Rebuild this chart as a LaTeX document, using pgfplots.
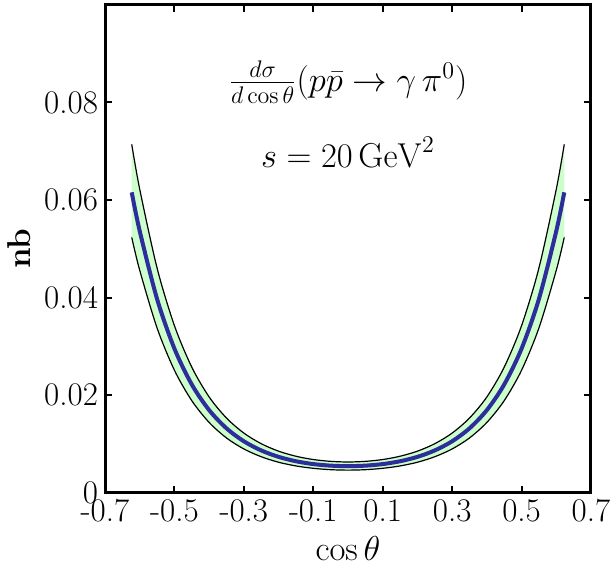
\documentclass[border=0pt]{standalone}
\usepackage{pgfplots}
\usepackage{pgfplotstable}
\pgfplotsset{compat=1.18}
\usepgfplotslibrary{fillbetween}
\usetikzlibrary{calc}
\definecolor{bandgreen}{RGB}{204,255,204}
\definecolor{curveblue}{RGB}{45,45,155}
\pgfplotstableread{
x c up lo
-0.623 0.06157 0.07142 0.05233
-0.60 0.05364 0.06222 0.04559
-0.55 0.03970 0.04605 0.03375
-0.50 0.02951 0.03423 0.02508
-0.45 0.02216 0.02571 0.01884
-0.40 0.01690 0.01960 0.01437
-0.35 0.01316 0.01527 0.01119
-0.30 0.01051 0.01219 0.00893
-0.25 0.00863 0.01001 0.00734
-0.20 0.00731 0.00848 0.00621
-0.15 0.00641 0.00744 0.00545
-0.10 0.00583 0.00676 0.00496
-0.05 0.00551 0.00639 0.00468
0.00 0.00540 0.00626 0.00459
0.05 0.00551 0.00639 0.00468
0.10 0.00583 0.00676 0.00496
0.15 0.00641 0.00744 0.00545
0.20 0.00731 0.00848 0.00621
0.25 0.00863 0.01001 0.00734
0.30 0.01051 0.01219 0.00893
0.35 0.01316 0.01527 0.01119
0.40 0.01690 0.01960 0.01437
0.45 0.02216 0.02571 0.01884
0.50 0.02951 0.03423 0.02508
0.55 0.03970 0.04605 0.03375
0.60 0.05364 0.06222 0.04559
0.623 0.06157 0.07142 0.05233
}\crosssection
\begin{document}
\begin{tikzpicture}
\begin{axis}[
  scale only axis,
  width=243pt, height=243.75pt,
  xmin=-0.7, xmax=0.7, ymin=0, ymax=0.1,
  xtick={-0.7,-0.5,-0.3,-0.1,0.1,0.3,0.5,0.7},
  xticklabels={-0.7,-0.5,-0.3,-0.1,0.1,0.3,0.5,0.7},
  ytick={0,0.02,0.04,0.06,0.08},
  yticklabels={0,0.02,0.04,0.06,0.08},
  scaled y ticks=false,
  xtick pos=both, ytick pos=both,
  tick align=inside,
  major tick length=3.5pt,
  tick style={line width=1pt, black},
  axis line style={line width=1.5pt},
  every tick label/.append style={font=\fontsize{16.5}{20}\selectfont},
  label style={font=\fontsize{16.5}{20}\selectfont},
  xlabel={$\cos\theta$},
  ylabel={\textbf{nb}},
]
\addplot[draw=none, name path=up, smooth] table[x=x, y=up] {\crosssection};
\addplot[draw=none, name path=lo, smooth] table[x=x, y=lo] {\crosssection};
\addplot[bandgreen] fill between[of=up and lo];
\addplot[black, line width=0.6pt, smooth] table[x=x, y=up] {\crosssection};
\addplot[black, line width=0.6pt, smooth] table[x=x, y=lo] {\crosssection};
\addplot[curveblue, line width=2pt, smooth] table[x=x, y=c] {\crosssection};
\node[font=\fontsize{16.5}{20}\selectfont] at (axis cs:0,0.0842)
  {$\frac{d\sigma}{d\cos\theta}(p\bar{p}\to\gamma\,\pi^0)$};
\node[font=\fontsize{16.5}{20}\selectfont, anchor=base] at (axis cs:0,0.0667)
  {$s=20\,\mathrm{GeV}^2$};
\end{axis}
\pgfresetboundingbox
\path[use as bounding box] ($(current axis.south west)+(-52.5pt,-40.75pt)$) rectangle ($(current axis.north east)+(9.5pt,2.5pt)$);
\end{tikzpicture}
\end{document}
